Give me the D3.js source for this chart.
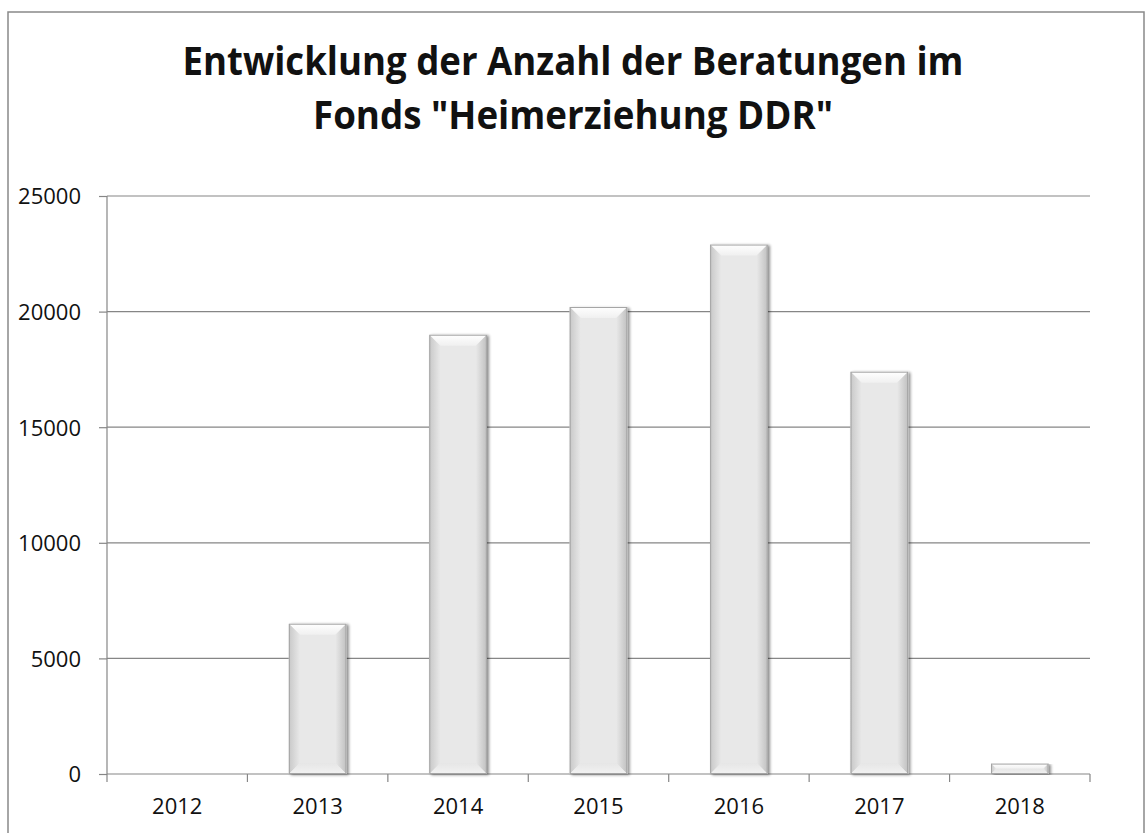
<!DOCTYPE html>
<html>
<head>
<meta charset="utf-8">
<script src="https://cdn.jsdelivr.net/npm/d3@7"></script>
<style>
  html, body { margin: 0; padding: 0; background: #fff; }
  svg { display: block; }
</style>
</head>
<body>
<svg id="chart" width="1145" height="833"></svg>
<script>
const titleLines = ["Entwicklung der Anzahl der Beratungen im", "Fonds \"Heimerziehung DDR\""];
const years = ["2012", "2013", "2014", "2015", "2016", "2017", "2018"];
const counts = [0, 6500, 19000, 20200, 22900, 17400, 450];
const yTicks = [0, 5000, 10000, 15000, 20000, 25000];

const svg = d3.select("#chart");
const plot = { left: 107, right: 1090, top: 196, bottom: 774 };
const gridColor = "#868686";

// outer border
svg.append("rect")
  .attr("x", 8).attr("y", 12).attr("width", 1136).attr("height", 840)
  .attr("fill", "#fff").attr("stroke", "#898989").attr("stroke-width", 1.5);

// defs
const defs = svg.append("defs");
function lin(id, x1, y1, x2, y2, stops) {
  const g = defs.append("linearGradient").attr("id", id)
    .attr("x1", x1).attr("y1", y1).attr("x2", x2).attr("y2", y2);
  stops.forEach(s => g.append("stop").attr("offset", s[0]).attr("stop-color", s[1]));
}
lin("gTop", 0, 0, 0, 1, [[0, "#ffffff"], [1, "#f0f0f0"]]);
lin("gLeft", 0, 0, 1, 0, [[0, "#c8c8c8"], [1, "#e8e8e8"]]);
lin("gRight", 0, 0, 1, 0, [[0, "#e8e8e8"], [1, "#c0c0c0"]]);
lin("gBottom", 0, 0, 0, 1, [[0, "#e6e6e6"], [1, "#f2f2f2"]]);
const f = defs.append("filter").attr("id", "shadow").attr("x", "-20%").attr("y", "-5%").attr("width", "140%").attr("height", "110%");
f.append("feGaussianBlur").attr("in", "SourceAlpha").attr("stdDeviation", 1.5).attr("result", "b");
f.append("feOffset").attr("in", "b").attr("dx", 2).attr("dy", 1).attr("result", "o");
f.append("feComponentTransfer").attr("in", "o").attr("result", "o2")
  .append("feFuncA").attr("type", "linear").attr("slope", 0.45);
const fm = f.append("feMerge");
fm.append("feMergeNode").attr("in", "o2");
fm.append("feMergeNode").attr("in", "SourceGraphic");

// scales
const x = d3.scaleBand().domain(years).range([plot.left, plot.right])
  .paddingInner(0.59).paddingOuter(0.295);
const y = d3.scaleLinear().domain([0, 25000]).range([plot.bottom, plot.top]);

// gridlines
svg.append("g").selectAll("line").data(yTicks.filter(d => d > 0)).join("line")
  .attr("x1", plot.left).attr("x2", plot.right)
  .attr("y1", d => y(d)).attr("y2", d => y(d))
  .attr("stroke", gridColor).attr("stroke-width", 1.2);

// y axis
const yAxis = svg.append("g").attr("transform", `translate(${plot.left},0)`)
  .call(d3.axisLeft(y).tickValues(yTicks).tickSize(8).tickPadding(18).tickFormat(d3.format("d")));
yAxis.select(".domain").attr("stroke", gridColor).attr("stroke-width", 1.2).attr("d", `M0,${plot.top}V${plot.bottom}`);
yAxis.selectAll(".tick line").attr("stroke", gridColor).attr("stroke-width", 1.2);
yAxis.selectAll(".tick text").attr("fill", "#111").attr("font-family", "'Open Sans', sans-serif").attr("font-size", 22).attr("dy", "0.36em");

// x axis
const step = x.step();
const boundaries = years.map(d => x(d) - (step - x.bandwidth()) / 2).concat([plot.right]);
const xAxisG = svg.append("g").attr("transform", `translate(0,${plot.bottom})`);
xAxisG.append("line").attr("x1", plot.left).attr("x2", plot.right).attr("y1", 0).attr("y2", 0)
  .attr("stroke", gridColor).attr("stroke-width", 1.2);
xAxisG.selectAll("line.bt").data(boundaries).join("line").attr("class", "bt")
  .attr("x1", d => d).attr("x2", d => d).attr("y1", 0).attr("y2", 8)
  .attr("stroke", gridColor).attr("stroke-width", 1.2);
const xa = svg.append("g").attr("transform", `translate(0,${plot.bottom})`)
  .call(d3.axisBottom(x).tickSize(0).tickPadding(24));
xa.select(".domain").remove();
xa.selectAll(".tick text").attr("fill", "#111").attr("font-family", "'Open Sans', sans-serif").attr("font-size", 22).attr("dy", "0.71em");

// bars
const data = years.map((yr, i) => ({ yr, v: counts[i] })).filter(d => d.v > 0);
const bars = svg.append("g").selectAll("g").data(data).join("g").attr("filter", "url(#shadow)");
bars.each(function (d) {
  const g = d3.select(this);
  const x0 = x(d.yr), x1 = x(d.yr) + x.bandwidth();
  const y0 = y(d.v), y1 = y(0);
  const b = Math.min(11, (y1 - y0) / 2);
  g.append("rect").attr("x", x0).attr("y", y0).attr("width", x1 - x0).attr("height", y1 - y0).attr("fill", "#e8e8e8");
  const poly = pts => pts.map(p => p.join(",")).join(" ");
  g.append("polygon").attr("points", poly([[x0, y0], [x1, y0], [x1 - b, y0 + b], [x0 + b, y0 + b]])).attr("fill", "url(#gTop)");
  g.append("polygon").attr("points", poly([[x0, y0], [x0 + b, y0 + b], [x0 + b, y1 - b], [x0, y1]])).attr("fill", "url(#gLeft)");
  g.append("polygon").attr("points", poly([[x1, y0], [x1 - b, y0 + b], [x1 - b, y1 - b], [x1, y1]])).attr("fill", "url(#gRight)");
  g.append("polygon").attr("points", poly([[x0, y1], [x0 + b, y1 - b], [x1 - b, y1 - b], [x1, y1]])).attr("fill", "url(#gBottom)");
  g.append("rect").attr("x", x0 + 0.5).attr("y", y0 + 0.5).attr("width", x1 - x0 - 1).attr("height", y1 - y0 - 1)
    .attr("fill", "none").attr("stroke", "#a4a4a4").attr("stroke-width", 1);
});

// title
const titleCx = 573;
const tLines = [{ t: titleLines[0], y: 75, w: 781 }, { t: titleLines[1], y: 129, w: 520 }];
const tt = svg.append("g").selectAll("text").data(tLines).join("text")
  .attr("x", titleCx).attr("y", d => d.y).attr("text-anchor", "middle")
  .attr("font-family", "'Open Sans', sans-serif").attr("font-weight", "bold").attr("font-size", 39)
  .attr("fill", "#111").text(d => d.t);
tt.each(function (d) {
  const len = this.getComputedTextLength();
  if (Math.abs(len - d.w) > 4) {
    d3.select(this).attr("textLength", d.w).attr("lengthAdjust", "spacingAndGlyphs");
  }
});
</script>
</body>
</html>
